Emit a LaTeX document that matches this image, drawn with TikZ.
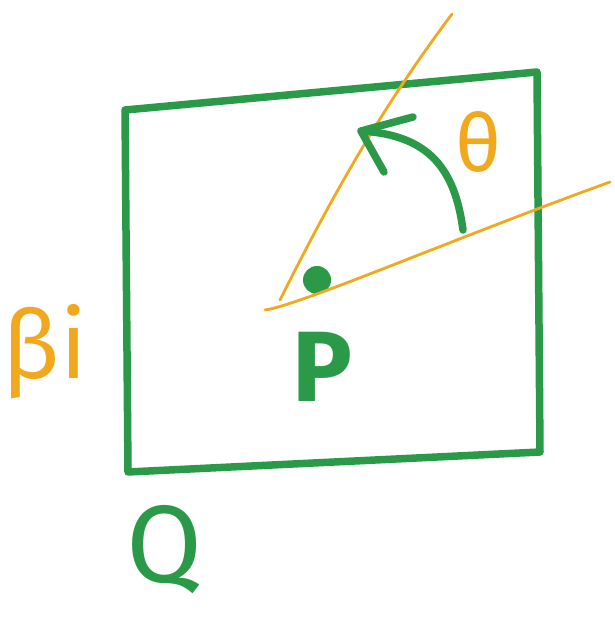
\documentclass[tikz,border=0pt]{standalone}
\usepackage{fontspec}
\setsansfont{Fira Sans}
\definecolor{mkgreen}{HTML}{2A9A48}
\definecolor{mkorange}{HTML}{F2A81D}
\tikzset{
  gline/.style={draw=mkgreen, line width=7.5pt, line cap=round, line join=round},
  oline/.style={draw=mkorange, line width=2.8pt, line cap=round},
  glabel/.style={text=mkgreen, font=\sffamily, inner sep=0pt},
  olabel/.style={text=mkorange, inner sep=0pt}
}
\begin{document}
\begin{tikzpicture}[x=1pt,y=-1pt]
\useasboundingbox (0,0) rectangle (614,621);
% square
\coordinate (tl) at (125,110);
\coordinate (tr) at (537,72);
\coordinate (br) at (540,452);
\coordinate (bl) at (128,472);
\draw[gline] (tl) -- (tr) -- (br) -- (bl) -- cycle;
% dot
\fill[mkgreen] (317,280) circle (14);
\node[coordinate] (dot) at (317,280) {};
% orange rays
\coordinate (o1) at (265,310);
\coordinate (o2) at (610,182);
\coordinate (o3) at (280,300);
\coordinate (o4) at (452,14);
\draw[oline] (o1) .. controls (300,305) and (450,240) .. (o2);
\draw[oline] (o3) .. controls (330,200) and (380,110) .. (o4);
% angle arrow
\coordinate (as) at (463,230);
\coordinate (ae) at (361,131);
\coordinate (b1) at (413,117);
\coordinate (b2) at (384,172);
\draw[gline] (as) .. controls (455,170) and (430,135) .. (ae);
\draw[gline] (b1) -- (ae) -- (b2);
% labels
\node[olabel, font=\sffamily\fontsize{80}{80}\selectfont] (theta) at (478,142) {θ};
\node[glabel, font=\sffamily\bfseries\fontsize{100}{100}\selectfont] (P) at (322,367) {P};
\node[glabel, font=\sffamily\fontsize{110}{110}\selectfont] (Q) at (165,550) {Q};
\node[olabel, font=\sffamily\fontsize{95}{95}\selectfont] (beta) at (45,352) {βi};
\end{tikzpicture}
\end{document}
